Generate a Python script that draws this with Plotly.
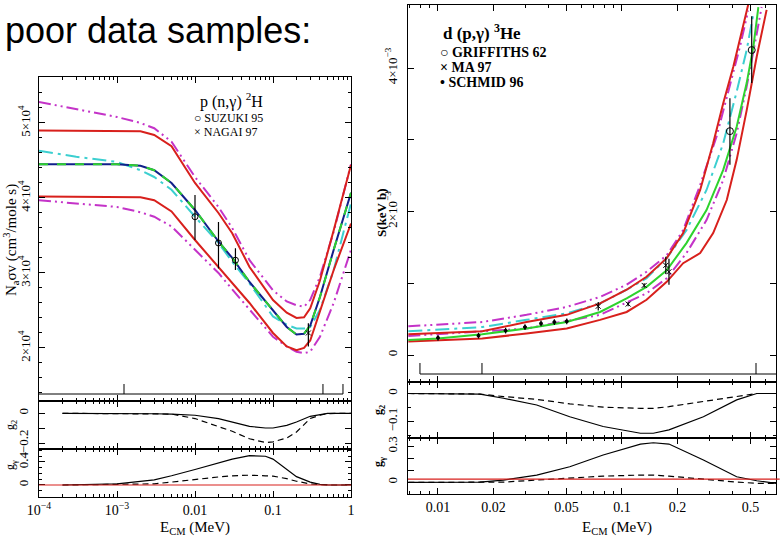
import plotly.graph_objects as go

W, H = 780, 540
def PX(v): return v / W
def PY(v): return 1 - v / H

# ---------------- LEFT: p(n,gamma)2H  (y in units of 1e4 cm^3/mole/s) ----------------
xl = [1e-4, 3e-4, 1e-3, 2e-3, 3e-3, 5e-3, 0.01, 0.02, 0.03, 0.05, 0.1, 0.15, 0.2, 0.25, 0.3, 0.4, 0.6, 1.0]
l_center = [4.45, 4.45, 4.45, 4.43, 4.37, 4.20, 3.84, 3.42, 3.20, 2.88, 2.51, 2.28, 2.18, 2.19, 2.30, 2.68, 3.31, 4.07]
l_red_hi = [4.90, 4.90, 4.90, 4.89, 4.84, 4.69, 4.20, 3.80, 3.53, 3.08, 2.64, 2.47, 2.40, 2.41, 2.53, 2.90, 3.57, 4.44]
l_red_lo = [4.02, 4.02, 4.02, 4.01, 3.97, 3.82, 3.44, 3.08, 2.88, 2.60, 2.20, 2.02, 1.97, 2.00, 2.10, 2.50, 3.04, 3.66]
l_mag_hi = [5.28, 5.18, 5.08, 5.00, 4.93, 4.75, 4.28, 3.88, 3.60, 3.17, 2.77, 2.62, 2.57, 2.55, 2.64, 2.95, 3.55, 4.45]
l_mag_lo = [3.97, 3.93, 3.88, 3.81, 3.75, 3.62, 3.31, 3.00, 2.78, 2.51, 2.15, 2.02, 1.95, 1.93, 1.95, 2.15, 2.60, 3.31]
l_cyan   = [4.63, 4.55, 4.48, 4.37, 4.28, 4.11, 3.75, 3.40, 3.15, 2.86, 2.42, 2.31, 2.26, 2.26, 2.28, 2.51, 3.04, 3.93]

suzuki_x = [0.01, 0.02, 0.033]
suzuki_y = [3.75, 3.40, 3.17]
suzuki_ep = [0.29, 0.28, 0.16]
suzuki_em = [0.31, 0.34, 0.13]
nagai_x = [0.284]
nagai_y = [2.20]
nagai_ep = [0.13]
nagai_em = [0.18]

xgl = [2e-4, 1e-3, 3e-3, 5e-3, 0.01, 0.02, 0.03, 0.05, 0.08, 0.1, 0.15, 0.2, 0.3, 0.4, 0.5, 0.7, 1.0]
l_g2_solid = [0, 0, -0.003, -0.006, -0.013, -0.035, -0.06, -0.087, -0.098, -0.098, -0.08, -0.058, -0.02, -0.008, 0, 0, 0]
l_g2_dash  = [0, 0, -0.002, -0.005, -0.035, -0.09, -0.12, -0.17, -0.195, -0.19, -0.165, -0.125, -0.035, -0.012, -0.002, 0, 0]
l_gg_solid = [0, 0.02, 0.09, 0.16, 0.27, 0.38, 0.45, 0.51, 0.50, 0.45, 0.28, 0.145, 0.05, 0.012, 0.003, 0, 0]
l_gg_dash  = [0, 0.005, 0.02, 0.05, 0.10, 0.14, 0.16, 0.17, 0.16, 0.155, 0.11, 0.065, 0.018, 0.005, 0, 0, 0]
l_gg_red = 0.0

left_xticks = [1e-4, 1e-3, 0.01, 0.1, 1]
left_xticktext = ["10<sup>−4</sup>", "10<sup>−3</sup>", "0.01", "0.1", "1"]
left_yticks = [2, 3, 4, 5]
left_yticktext = ["2×10<sup>4</sup>", "3×10<sup>4</sup>", "4×10<sup>4</sup>", "5×10<sup>4</sup>"]
left_strip_ticks = [1.23e-3, 0.437, 0.789]

# ---------------- RIGHT: d(p,gamma)3He  (y in units of 1e-3 keV b) ----------------
r_green_x = [0.0069, 0.01, 0.0174, 0.0303, 0.0501, 0.076, 0.106, 0.136, 0.175, 0.224, 0.288, 0.355, 0.42, 0.476, 0.518, 0.551]
r_green_y = [0.21, 0.23, 0.29, 0.37, 0.46, 0.60, 0.79, 0.95, 1.18, 1.56, 2.02, 2.58, 3.18, 3.79, 4.30, 4.85]
r_red_hi_x = [0.0069, 0.0174, 0.0303, 0.0501, 0.076, 0.106, 0.136, 0.175, 0.215, 0.266, 0.313, 0.355, 0.403, 0.456, 0.485]
r_red_hi_y = [0.29, 0.33, 0.46, 0.56, 0.72, 0.91, 1.09, 1.35, 1.70, 2.30, 2.95, 3.51, 4.02, 4.58, 4.88]
r_red_lo_x = [0.0069, 0.0174, 0.0303, 0.0501, 0.076, 0.106, 0.136, 0.175, 0.215, 0.266, 0.313, 0.371, 0.42, 0.476, 0.54, 0.611]
r_red_lo_y = [0.19, 0.23, 0.30, 0.37, 0.49, 0.60, 0.77, 1.02, 1.28, 1.42, 1.70, 2.16, 2.72, 3.41, 4.16, 4.81]
r_mag_hi_x = [0.0069, 0.0174, 0.0303, 0.0501, 0.076, 0.106, 0.136, 0.175, 0.215, 0.266, 0.327, 0.386, 0.438, 0.485]
r_mag_hi_y = [0.40, 0.46, 0.56, 0.67, 0.81, 0.98, 1.16, 1.39, 1.74, 2.37, 3.05, 3.75, 4.30, 4.80]
r_mag_lo_x = [0.0069, 0.0303, 0.076, 0.136, 0.175, 0.224, 0.288, 0.355, 0.42, 0.476, 0.54, 0.574]
r_mag_lo_y = [0.265, 0.37, 0.56, 0.86, 1.07, 1.42, 1.88, 2.44, 3.09, 3.74, 4.48, 4.85]
r_cyan_x = [0.0069, 0.0174, 0.0303, 0.0501, 0.076, 0.106, 0.136, 0.175, 0.224, 0.288, 0.355, 0.42, 0.476, 0.518]
r_cyan_y = [0.33, 0.39, 0.49, 0.58, 0.72, 0.91, 1.07, 1.35, 1.74, 2.30, 2.95, 3.67, 4.25, 4.76]

griff_x = [0.386, 0.507]
griff_y = [3.12, 4.25]
griff_ep = [0.46, 0.47]
griff_em = [0.47, 0.46]
ma_x = [0.0743, 0.108, 0.132, 0.173, 0.18]
ma_y = [0.68, 0.71, 0.97, 1.25, 1.16]
ma_e = [0.06, 0.03, 0.03, 0.12, 0.18]
schmid_x = [0.01, 0.0166, 0.0233, 0.0297, 0.0363, 0.0429, 0.0501]
schmid_y = [0.24, 0.27, 0.34, 0.39, 0.44, 0.46, 0.47]
schmid_e = [0.04, 0.04, 0.04, 0.04, 0.04, 0.04, 0.04]

xgr = [0.0069, 0.0169, 0.0227, 0.0344, 0.052, 0.079, 0.126, 0.148, 0.18, 0.277, 0.42, 0.54, 0.69]
r_g2_solid = [0, -0.002, -0.017, -0.041, -0.083, -0.118, -0.142, -0.142, -0.13, -0.083, -0.023, 0, 0]
r_g2_dash  = [0, -0.002, -0.011, -0.021, -0.037, -0.049, -0.053, -0.053, -0.047, -0.029, -0.009, 0, 0]
r_gg_solid = [-0.003, 0.0, 0.017, 0.059, 0.129, 0.227, 0.319, 0.33, 0.319, 0.185, 0.045, 0.011, -0.011]
r_gg_dash  = [-0.003, 0.0, 0.0, 0.017, 0.031, 0.05, 0.059, 0.058, 0.05, 0.022, 0.0, -0.01, -0.01]
r_gg_red = 0.025

right_xticks = [0.01, 0.02, 0.05, 0.1, 0.2, 0.5]
right_xticktext = ["0.01", "0.02", "0.05", "0.1", "0.2", "0.5"]
right_yticks = [0, 1, 2, 3, 4]
right_yticktext = ["0", "", "2×10<sup>−3</sup>", "", "4×10<sup>−3</sup>"]
right_strip_ticks = [0.00798, 0.01734, 0.535]

# ---------------- styles ----------------
RED = "#d8201c"
BLUE = "#10208a"
GREEN = "#2ed22e"
CYAN = "#3ccfd0"
MAG = "#c433c8"
SERIF = "Liberation Serif"
DASH_CY = "14px,5px,3px,5px"
DASH_MG = "12px,4px,2px,4px,2px,4px"

fig = go.Figure()

def line(x, y, xa, ya, color, dash="solid", width=2):
    fig.add_trace(go.Scatter(x=x, y=y, mode="lines", xaxis=xa, yaxis=ya,
                             line=dict(color=color, dash=dash, width=width),
                             showlegend=False, hoverinfo="skip"))

def points(x, y, ep, em, xa, ya, symbol, size):
    fig.add_trace(go.Scatter(x=x, y=y, mode="markers", xaxis=xa, yaxis=ya,
                             marker=dict(symbol=symbol, size=size, color="black",
                                         line=dict(color="black", width=1)),
                             error_y=dict(type="data", array=ep, arrayminus=em, width=0,
                                          thickness=1.2, color="black"),
                             showlegend=False, hoverinfo="skip"))

# left main
line(xl, l_mag_hi, "x", "y", MAG, DASH_MG)
line(xl, l_mag_lo, "x", "y", MAG, DASH_MG)
line(xl, l_cyan, "x", "y", CYAN, DASH_CY)
line(xl, l_red_hi, "x", "y", RED)
line(xl, l_red_lo, "x", "y", RED)
line(xl, l_center, "x", "y", BLUE)
line(xl, l_center, "x", "y", GREEN, "9px,9px")
points(suzuki_x, suzuki_y, suzuki_ep, suzuki_em, "x", "y", "circle-open", 6)
points(nagai_x, nagai_y, nagai_ep, nagai_em, "x", "y", "x-thin-open", 5)
# left g2, g_gamma
line(xgl, l_g2_solid, "x2", "y2", "black", "solid", 1.2)
line(xgl, l_g2_dash, "x2", "y2", "black", "6px,4px", 1.2)
line(xgl, l_gg_solid, "x3", "y3", "black", "solid", 1.2)
line(xgl, l_gg_dash, "x3", "y3", "black", "6px,4px", 1.2)

# right main
line(r_mag_hi_x, r_mag_hi_y, "x4", "y4", MAG, DASH_MG)
line(r_mag_lo_x, r_mag_lo_y, "x4", "y4", MAG, DASH_MG)
line(r_cyan_x, r_cyan_y, "x4", "y4", CYAN, DASH_CY)
line(r_red_hi_x, r_red_hi_y, "x4", "y4", RED)
line(r_red_lo_x, r_red_lo_y, "x4", "y4", RED)
line(r_green_x, r_green_y, "x4", "y4", GREEN)
points(griff_x, griff_y, griff_ep, griff_em, "x4", "y4", "circle-open", 7)
points(ma_x, ma_y, ma_e, ma_e, "x4", "y4", "x-thin-open", 5)
points(schmid_x, schmid_y, schmid_e, schmid_e, "x4", "y4", "circle", 3)
# right g2, g_gamma
line(xgr, r_g2_solid, "x5", "y5", "black", "solid", 1.2)
line(xgr, r_g2_dash, "x5", "y5", "black", "6px,4px", 1.2)
line(xgr, r_gg_solid, "x6", "y6", "black", "solid", 1.2)
line(xgr, r_gg_dash, "x6", "y6", "black", "6px,4px", 1.2)

# ---------------- axes ----------------
def minor_log(lo_dec, hi_dec):
    return [m * 10.0 ** d for d in range(lo_dec, hi_dec + 1) for m in range(2, 10)]

tickfont = dict(family=SERIF, size=13, color="black")
base = dict(showline=True, linecolor="black", linewidth=1, mirror="ticks", ticks="inside",
            ticklen=6, tickcolor="black", tickwidth=1, showgrid=False, zeroline=False,
            tickfont=tickfont, automargin=False)

LX = [PX(39), PX(351)]
RX = [PX(408), PX(776)]
lx_range = [-4, 0]
rx_range = [-2.163, -0.163]

def xax(domain, rng, anchor, tv, tt, minor_vals, labels, fsize=14):
    d = dict(base, domain=domain, type="log", range=rng, anchor=anchor,
             tickmode="array", tickvals=tv, ticktext=tt, showticklabels=labels,
             ticklabelstandoff=0, tickfont=dict(family=SERIF, size=fsize, color="black"),
             minor=dict(tickmode="array", tickvals=minor_vals, ticks="inside", ticklen=3,
                        tickcolor="black", showgrid=False))
    return d

def yax(domain, rng, anchor, tv, tt, minor_dtick=None, standoff=5):
    d = dict(base, domain=domain, range=rng, anchor=anchor, tickmode="array",
             tickvals=tv, ticktext=tt, tickangle=-90, ticklabelstandoff=standoff)
    if minor_dtick:
        d["minor"] = dict(dtick=minor_dtick, tick0=0, ticks="inside", ticklen=3,
                          tickcolor="black", showgrid=False)
    return d

lminor = minor_log(-4, -1)
rminor = minor_log(-3, -1)

fig.update_layout(
    width=W, height=H, margin=dict(l=0, r=0, t=0, b=0, pad=0, autoexpand=False),
    paper_bgcolor="white", plot_bgcolor="white", showlegend=False,
    xaxis=xax(LX, lx_range, "y", left_xticks, left_xticktext, lminor, False),
    yaxis=yax([PY(401), PY(77)], [1.293, 5.613], "x", left_yticks, left_yticktext, 0.2, 3),
    xaxis2=xax(LX, lx_range, "y2", left_xticks, left_xticktext, lminor, False),
    yaxis2=yax([PY(449), PY(401)], [-0.238, 0.082], "x2", [0, -0.1, -0.2], ["0", "", "−0.2"]),
    xaxis3=xax(LX, lx_range, "y3", left_xticks, left_xticktext, lminor, True, 14),
    yaxis3=yax([PY(497), PY(449)], [-0.209, 0.626], "x3", [0, 0.4], ["0", "0.4"], 0.1),
    xaxis4=xax(RX, rx_range, "y4", right_xticks, right_xticktext, rminor, False),
    yaxis4=yax([PY(382), PY(5)], [-0.376, 4.878], "x4", right_yticks, right_yticktext),
    xaxis5=xax(RX, rx_range, "y5", right_xticks, right_xticktext, rminor, False),
    yaxis5=yax([PY(438), PY(382)], [-0.159, 0.041], "x5", [0, -0.1], ["0", "−0.1"], 0.05),
    xaxis6=xax(RX, rx_range, "y6", right_xticks, right_xticktext, rminor, True, 14),
    yaxis6=yax([PY(494), PY(438)], [-0.10, 0.37], "x6", [0, 0.1, 0.2, 0.3], ["0", "", "", "0.3"]),
)

shapes = []
# g_gamma reference lines (red)
shapes.append(dict(type="line", xref="x3 domain", yref="y3", x0=0, x1=1, y0=l_gg_red, y1=l_gg_red,
                   line=dict(color=RED, width=1.2)))
shapes.append(dict(type="line", xref="x6 domain", yref="y6", x0=0, x1=1.01, y0=r_gg_red, y1=r_gg_red,
                   line=dict(color=RED, width=1.2)))
# secondary strips with tall ticks
shapes.append(dict(type="line", xref="paper", yref="paper", x0=PX(39), x1=PX(343), y0=PY(394), y1=PY(394),
                   line=dict(color="black", width=1)))
for t in left_strip_ticks:
    shapes.append(dict(type="line", xref="x", yref="paper", x0=t, x1=t, y0=PY(394), y1=PY(384),
                       line=dict(color="black", width=1)))
shapes.append(dict(type="line", xref="paper", yref="paper", x0=PX(420), x1=PX(776), y0=PY(374), y1=PY(374),
                   line=dict(color="black", width=1)))
for t in right_strip_ticks:
    shapes.append(dict(type="line", xref="x4", yref="paper", x0=t, x1=t, y0=PY(374), y1=PY(363),
                       line=dict(color="black", width=1)))
fig.update_layout(shapes=shapes)

ann = []
def text(s, x, y, size, xanchor="center", angle=0, family=SERIF, bold=False):
    if bold:
        s = "<b>" + s + "</b>"
    ann.append(dict(text=s, x=PX(x), y=PY(y), xref="paper", yref="paper", showarrow=False,
                    xanchor=xanchor, yanchor="middle", textangle=angle, borderpad=0,
                    font=dict(family=family, size=size, color="black")))

text("poor data samples:", 4, 31, 36, "left", family="Liberation Sans")
# left panel texts
text("N<sub>a</sub>σv (cm<sup>3</sup>/mole s)", 11, 240, 15, angle=-90)
text("g<sub>2</sub>", 11, 425, 12, angle=-90)
text("g<sub>γ</sub>", 11, 465, 12, angle=-90)
text("E<sub>CM</sub> (MeV)", 195, 528, 15)
text("p (n,γ) <sup>2</sup>H", 231, 101, 16)
text("○ SUZUKI 95", 193, 118, 12, "left")
text("× NAGAI 97", 193, 132, 12, "left")
# right panel texts
text("S(keV b)", 382, 213, 13, angle=-90, bold=True)
text("g<sub>2</sub>", 379, 410, 12, angle=-90, bold=True)
text("g<sub>γ</sub>", 379, 462, 12, angle=-90, bold=True)
text("E<sub>CM</sub> (MeV)", 617, 528, 15)
text("d (p,γ) <sup>3</sup>He", 442, 32, 17, "left", bold=True)
text("○ GRIFFITHS 62", 439, 53, 14, "left", bold=True)
text("× MA 97", 439, 68, 14, "left", bold=True)
text("• SCHMID 96", 439, 83, 14, "left", bold=True)
fig.update_layout(annotations=ann)

fig.write_html("out.html", config={"displayModeBar": False},
               post_script="document.body.style.margin='0px';document.body.style.overflow='hidden';")
